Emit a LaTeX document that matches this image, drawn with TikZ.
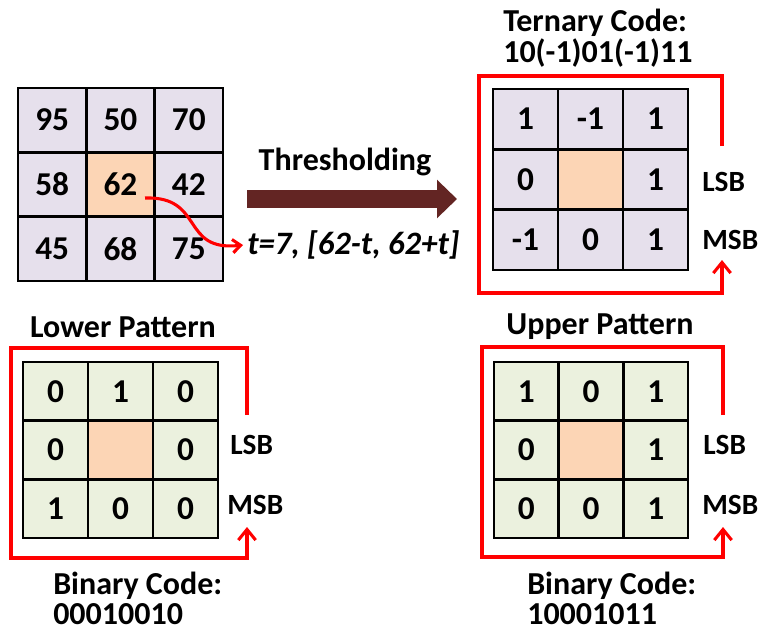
\documentclass[tikz,border=0pt]{standalone}
\usepackage{fontspec}
\setmainfont{Carlito}
\usetikzlibrary{arrows.meta}
\definecolor{lav}{HTML}{E6E0EC}
\definecolor{grn}{HTML}{EBF1DE}
\definecolor{org}{HTML}{FCD5B5}
\definecolor{maroonarrow}{HTML}{632523}

% 3x3 grid of cells: name, x0, y0, cell width, cell height, fill, values
\newcommand\cellgrid[7]{%
  \foreach \v [count=\i from 0] in {#7} {
    \pgfmathtruncatemacro\r{\i/3}
    \pgfmathtruncatemacro\c{mod(\i,3)}
    \ifnum\i=4 \def\cf{org}\else\def\cf{#6}\fi
    \node[cell, fill=\cf, minimum width={#4*0.75pt}, minimum height={#5*0.75pt}]
      (#1-\i) at ({#2+(\c+0.5)*#4},{#3+(\r+0.5)*#5}) {\v};
  }}

\begin{document}
\begin{tikzpicture}[x=0.75pt, y=-0.75pt,
  txt/.style={font=\bfseries\fontsize{24}{28}\selectfont, inner sep=0pt},
  bit/.style={font=\bfseries\fontsize{22}{26}\selectfont, inner sep=0pt, anchor=west},
  cell/.style={draw=black, line width=1.9pt, inner sep=0pt,
    font=\bfseries\fontsize{25}{29}\selectfont},
  bracket/.style={draw=red, line width=2.3pt, line join=miter,
    -{Straight Barb[length=8pt, width=13pt]}},
  thick arrow/.style={draw=maroonarrow, line width=13.5pt,
    -{Triangle[length=15pt, width=28pt]}}]
\useasboundingbox (0,0) rectangle (762,631);

% input neighbourhood and thresholding
\cellgrid{in}{18}{88}{68.3}{64.3}{lav}{95,50,70,58,62,42,45,68,75}
\node[txt, font=\bfseries\itshape\fontsize{24.5}{28}\selectfont, anchor=west] (tlab) at (247,245) {t=7, [62-t, 62+t]};
\coordinate (cstart) at (145,198);
\draw[draw=red, line width=2.3pt, -{Straight Barb[length=6pt, width=10pt]}]
  (cstart) .. controls (205,196) and (180,252) .. ([xshift=-3pt]tlab.west);

\coordinate (th-s) at (247,199);
\coordinate (th-e) at (457,199);
\draw[thick arrow] (th-s) -- (th-e);
\node[txt] (thlab) at (345,162) {Thresholding};

% ternary code
\cellgrid{tern}{493}{89}{65}{60.3}{lav}{1,-1,1,0,{},1,-1,0,1}
\node[txt, anchor=west] (tc1) at (503,23) {Ternary Code:};
\node[txt, anchor=west] (tc2) at (503,53) {10(-1)01(-1)11};
\node[bit] (tlsb) at (702,182) {LSB};
\node[bit] (tmsb) at (702,240) {MSB};
\coordinate (tb-a) at (722,146);
\coordinate (tb-b) at (722,76);
\coordinate (tb-c) at (479,76);
\coordinate (tb-d) at (479,293);
\coordinate (tb-e) at (722,293);
\coordinate (tb-f) at (722,260);
\draw[bracket] (tb-a) -- (tb-b) -- (tb-c) -- (tb-d) -- (tb-e) -- (tb-f);

% lower pattern
\cellgrid{low}{23}{362}{65}{58.7}{grn}{0,1,0,0,{},0,1,0,0}
\node[txt] (lowtitle) at (123,327) {Lower Pattern};
\node[bit] (llsb) at (230,445) {LSB};
\node[bit] (lmsb) at (227,505) {MSB};
\node[txt, anchor=west] (lbc1) at (53,586) {Binary Code:};
\node[txt, anchor=west] (lbc2) at (53,614) {00010010};
\coordinate (lb-a) at (247,415);
\coordinate (lb-b) at (247,348);
\coordinate (lb-c) at (11,348);
\coordinate (lb-d) at (11,558);
\coordinate (lb-e) at (247,558);
\coordinate (lb-f) at (247,527);
\draw[bracket] (lb-a) -- (lb-b) -- (lb-c) -- (lb-d) -- (lb-e) -- (lb-f);

% upper pattern
\cellgrid{up}{494}{362}{64.7}{58.7}{grn}{1,0,1,0,{},1,0,0,1}
\node[txt] (uptitle) at (600,327) {Upper Pattern};
\node[bit] (ulsb) at (703,445) {LSB};
\node[bit] (umsb) at (702,505) {MSB};
\node[txt, anchor=west] (ubc1) at (527,586) {Binary Code:};
\node[txt, anchor=west] (ubc2) at (527,614) {10001011};
\coordinate (ub-a) at (723,415);
\coordinate (ub-b) at (723,347);
\coordinate (ub-c) at (482,347);
\coordinate (ub-d) at (482,557);
\coordinate (ub-e) at (723,557);
\coordinate (ub-f) at (723,527);
\draw[bracket] (ub-a) -- (ub-b) -- (ub-c) -- (ub-d) -- (ub-e) -- (ub-f);
\end{tikzpicture}
\end{document}
